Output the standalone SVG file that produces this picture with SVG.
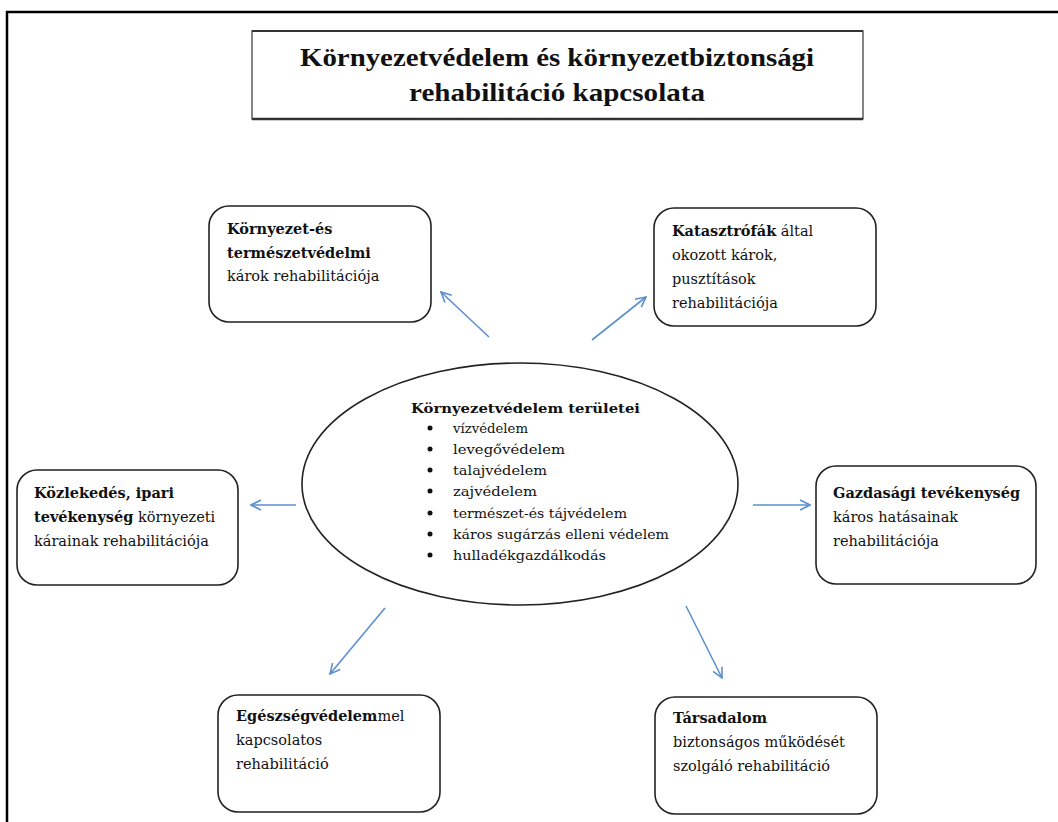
<svg xmlns="http://www.w3.org/2000/svg" width="1058" height="822" viewBox="0 0 1058 822">
<style>
.box{fill:#fff;stroke:#222;stroke-width:1.6}
.t{font-family:"DejaVu Serif","Liberation Serif",serif;font-size:14.5px;fill:#111}
.b{font-weight:bold}
.e{font-family:"DejaVu Serif","Liberation Serif",serif;font-size:13.5px;fill:#111}
.title{font-family:"Liberation Serif","Times New Roman",serif;font-size:25px;font-weight:bold;fill:#111}
.arr{stroke:#5b8fd0;stroke-width:1.6;fill:none;marker-end:url(#ah)}
</style>
<defs>
<marker id="ah" viewBox="0 0 12 12" refX="11" refY="6" markerWidth="12" markerHeight="12" markerUnits="userSpaceOnUse" orient="auto">
<path d="M1,1 L11,6 L1,11" fill="none" stroke="#5b8fd0" stroke-width="1.6"/>
</marker>
</defs>
<rect width="1058" height="822" fill="#fff"/>
<g id="frame">
<path d="M7,830 L7,12 L1060,12" fill="none" stroke="#000" stroke-width="2.5"/>
</g>
<g id="title">
<rect x="252" y="31" width="611" height="88" fill="#fff" stroke="#333" stroke-width="1.2"/>
<line x1="252" y1="119" x2="863" y2="119" stroke="#333" stroke-width="2.5"/>
<line x1="252" y1="31" x2="863" y2="31" stroke="#333" stroke-width="2"/>
<text class="title" x="557" y="66" text-anchor="middle" textLength="514" lengthAdjust="spacingAndGlyphs">Környezetvédelem és környezetbiztonsági</text>
<text class="title" x="557" y="101" text-anchor="middle" textLength="296" lengthAdjust="spacingAndGlyphs">rehabilitáció kapcsolata</text>
</g>
<g id="connectors">
<line class="arr" x1="489" y1="337" x2="441" y2="292"/>
<line class="arr" x1="592" y1="340" x2="646" y2="297"/>
<line class="arr" x1="296" y1="505" x2="251" y2="505"/>
<line class="arr" x1="753" y1="505" x2="810" y2="505"/>
<line class="arr" x1="385" y1="608" x2="330" y2="674"/>
<line class="arr" x1="686" y1="606" x2="722" y2="678"/>
</g>
<g id="center">
<ellipse cx="520" cy="484" rx="218" ry="121" fill="#fff" stroke="#222" stroke-width="1.6"/>
<text class="e b" x="411" y="413" font-size="15" textLength="229" lengthAdjust="spacingAndGlyphs">Környezetvédelem  területei</text>
<circle cx="430" cy="428" r="2.5" fill="#111"/><text class="e" x="453" y="433" textLength="75" lengthAdjust="spacingAndGlyphs">vízvédelem</text>
<circle cx="430" cy="449" r="2.5" fill="#111"/><text class="e" x="453" y="454" textLength="112" lengthAdjust="spacingAndGlyphs">levegővédelem</text>
<circle cx="430" cy="470" r="2.5" fill="#111"/><text class="e" x="453" y="475" textLength="94" lengthAdjust="spacingAndGlyphs">talajvédelem</text>
<circle cx="430" cy="491" r="2.5" fill="#111"/><text class="e" x="453" y="496" textLength="84" lengthAdjust="spacingAndGlyphs">zajvédelem</text>
<circle cx="430" cy="513" r="2.5" fill="#111"/><text class="e" x="453" y="518" textLength="174" lengthAdjust="spacingAndGlyphs">természet-és tájvédelem</text>
<circle cx="430" cy="534" r="2.5" fill="#111"/><text class="e" x="453" y="539" textLength="216" lengthAdjust="spacingAndGlyphs">káros sugárzás elleni védelem</text>
<circle cx="430" cy="555" r="2.5" fill="#111"/><text class="e" x="453" y="560" textLength="153" lengthAdjust="spacingAndGlyphs">hulladékgazdálkodás</text>
</g>
<g id="box-tl">
<rect class="box" x="209" y="206" width="222" height="116" rx="20"/>
<text class="t b" x="227" y="234">Környezet-és</text>
<text class="t b" x="227" y="258">természetvédelmi</text>
<text class="t" x="227" y="281">károk rehabilitációja</text>
</g>
<g id="box-tr">
<rect class="box" x="654" y="208" width="222" height="118" rx="20"/>
<text class="t" x="672" y="236"><tspan class="b">Katasztrófák</tspan> által</text>
<text class="t" x="672" y="260">okozott károk,</text>
<text class="t" x="672" y="284">pusztítások</text>
<text class="t" x="672" y="308">rehabilitációja</text>
</g>
<g id="box-l">
<rect class="box" x="17" y="470" width="221" height="115" rx="20"/>
<text class="t b" x="34" y="498">Közlekedés,  ipari</text>
<text class="t" x="34" y="522"><tspan class="b">tevékenység</tspan> környezeti</text>
<text class="t" x="34" y="546">kárainak rehabilitációja</text>
</g>
<g id="box-r">
<rect class="box" x="816" y="466" width="220" height="118" rx="20"/>
<text class="t b" x="833" y="498">Gazdasági tevékenység</text>
<text class="t" x="833" y="522">káros hatásainak</text>
<text class="t" x="833" y="546">rehabilitációja</text>
</g>
<g id="box-bl">
<rect class="box" x="218" y="695" width="222" height="117" rx="20"/>
<text class="t" x="236" y="721"><tspan class="b">Egészségvédelem</tspan>mel</text>
<text class="t" x="236" y="745">kapcsolatos</text>
<text class="t" x="236" y="769">rehabilitáció</text>
</g>
<g id="box-br">
<rect class="box" x="655" y="697" width="222" height="117" rx="20"/>
<text class="t b" x="673" y="723">Társadalom</text>
<text class="t" x="673" y="747">biztonságos működését</text>
<text class="t" x="673" y="771">szolgáló rehabilitáció</text>
</g>
</svg>
